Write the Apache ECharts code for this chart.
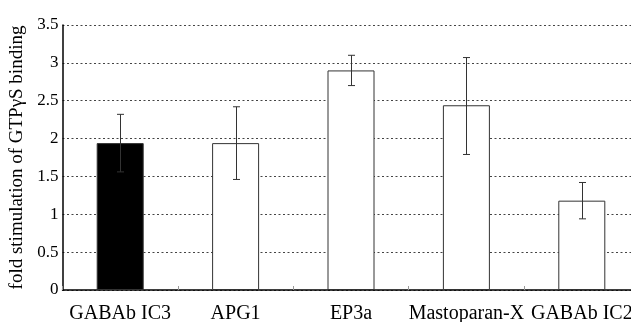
<!DOCTYPE html>
<html>
<head>
<meta charset="utf-8">
<script src="https://cdn.jsdelivr.net/npm/echarts@6/dist/echarts.min.js"></script>
<style>
  html, body { margin: 0; padding: 0; background: #fff; }
  #main { width: 631px; height: 322px; }
</style>
</head>
<body>
<div id="main"></div>
<script>
// data
var categories = ['GABAb IC3', 'APG1', 'EP3a', 'Mastoparan-X', 'GABAb IC2'];
var foldValues = [1.94, 1.94, 2.90, 2.44, 1.18];
var errLow = [1.56, 1.46, 2.70, 1.79, 0.94];
var errHigh = [2.32, 2.42, 3.10, 3.07, 1.42];

var chart = echarts.init(document.getElementById('main'));

var errData = [];
for (var i = 0; i < foldValues.length; i++) {
    errData.push([i, errLow[i], errHigh[i]]);
}

// error bar: vertical line with small caps
function renderErr(params, api) {
    var lo = api.coord([api.value(0), api.value(1)]);
    var hi = api.coord([api.value(0), api.value(2)]);
    var x = Math.round(lo[0]) + 0.5;
    var cap = 3.5;
    var st = { stroke: '#333', lineWidth: 1 };
    return {
        type: 'group',
        children: [
            { type: 'line', shape: { x1: x, y1: lo[1], x2: x, y2: hi[1] }, style: st },
            { type: 'line', shape: { x1: x - cap, y1: lo[1], x2: x + cap, y2: lo[1] }, style: st },
            { type: 'line', shape: { x1: x - cap, y1: hi[1], x2: x + cap, y2: hi[1] }, style: st }
        ]
    };
}

var option = {
    animation: false,
    backgroundColor: '#fff',
    textStyle: { fontFamily: 'Liberation Serif' },
    grid: { left: 62.5, top: 25, width: 577, height: 265, outerBoundsMode: 'none', containLabel: false },
    xAxis: {
        type: 'category',
        data: categories,
        axisLine: { lineStyle: { color: '#000', width: 1.5 } },
        axisTick: { show: true, inside: true, length: 4, lineStyle: { color: '#999' } },
        axisLabel: {
            color: '#000',
            fontSize: 20,
            fontFamily: 'Liberation Serif',
            margin: 14,
            interval: 0
        },
        splitLine: { show: false }
    },
    yAxis: {
        type: 'value',
        min: 0,
        max: 3.5,
        interval: 0.5,
        name: 'fold stimulation of GTPγS binding',
        nameLocation: 'middle',
        nameGap: 32,
        nameTextStyle: { color: '#000', fontSize: 19, fontFamily: 'Liberation Serif' },
        axisLine: { show: true, lineStyle: { color: '#000', width: 1.5 } },
        axisTick: { show: false },
        axisLabel: { color: '#000', fontSize: 17, fontFamily: 'Liberation Serif', margin: 4 },
        splitLine: { show: true, lineStyle: { color: '#444', type: [2, 2.5], width: 1 } }
    },
    series: [
        {
            type: 'bar',
            data: foldValues,
            barWidth: 47,
            itemStyle: {
                color: function (p) { return p.dataIndex == 0 ? '#000' : '#fff'; },
                borderColor: '#333',
                borderWidth: 1
            },
            z: 2
        },
        {
            type: 'custom',
            renderItem: renderErr,
            data: errData,
            encode: { x: 0, y: [1, 2] },
            z: 3
        }
    ]
};

chart.setOption(option);
</script>
</body>
</html>
